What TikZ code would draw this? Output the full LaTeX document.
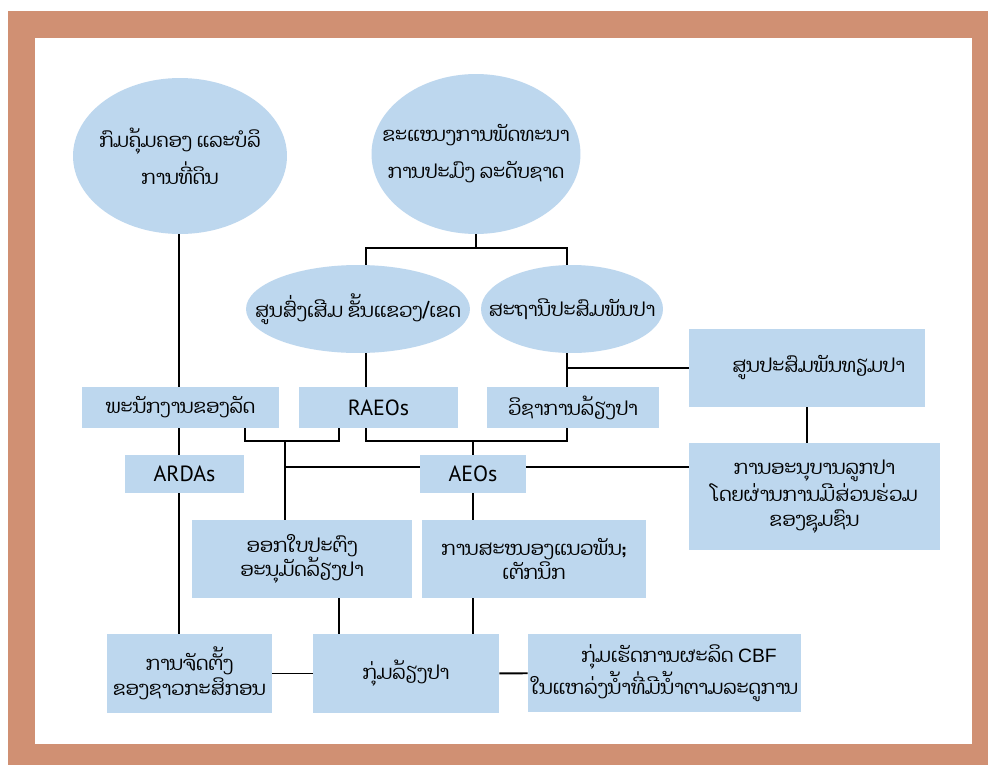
\documentclass[tikz,border=0pt]{standalone}
\usepackage{fontspec}
\setmainfont{PT Sans}
\newfontfamily\laofont[Script=Lao]{Dhyana}
\newfontfamily\arialfont{Liberation Sans}
\usetikzlibrary{shapes.geometric}
\definecolor{framebrown}{RGB}{208,144,115}
\definecolor{boxblue}{RGB}{189,215,238}

\begin{document}
\begin{tikzpicture}[x=0.02cm, y=-0.02cm,
	box/.style={fill=boxblue, inner sep=0pt, align=center, font=\laofont\fontsize{11}{14}\selectfont},
	latin/.style={font=\fontsize{12.5}{14}\selectfont},
	bubble/.style={ellipse, fill=boxblue, inner sep=0pt},
	lao/.style={align=center, font=\laofont\fontsize{11}{21}\selectfont},
	link/.style={line width=1.1pt}]
	\useasboundingbox (0,0) rectangle (988,765);
	%frame
	\fill[framebrown] (8,11) rectangle (988,765);
	\fill[white] (35,38) rectangle (972,744);
	
	%ellipses
	\node (land) at (180,156) [bubble, minimum width=4.28cm, minimum height=3.12cm,
		label={[lao]center:{ກົມຄຸ້ມຄອງ ແລະບໍລິ\\ການທີ່ດິນ}}]{};
	\node (fishdev) at (476,154) [bubble, minimum width=4.18cm, minimum height=3.2cm,
		label={[lao]center:{ຂະແໜງການພັດທະນາ\\ການປະມົງ ລະດັບຊາດ}}]{};
	\node (rao) at (358,309) [bubble, minimum width=4.48cm, minimum height=1.76cm,
		label={[lao]center:{ສູນສົ່ງເສີມ ຂັ້ນແຂວງ/ເຂດ}}]{};
	\node (station) at (572,309) [bubble, minimum width=3.64cm, minimum height=1.76cm,
		label={[lao]center:{ສະຖານີປະສົມພັນປາ}}]{};
	
	%boxes
	\node (civil) at (180.5,407.5) [box, minimum width=3.94cm, minimum height=0.82cm]{ພະນັກງານຂອງລັດ};
	\node (raeo) at (378.5,407.5) [box, latin, minimum width=3.18cm, minimum height=0.82cm]{RAEOs};
	\node (vis) at (573,407.5) [box, minimum width=3.44cm, minimum height=0.82cm]{ວິຊາການລ້ຽງປາ};
	\node (ardas) at (184.5,474) [box, latin, minimum width=2.38cm, minimum height=0.76cm]{ARDAs};
	\node (aeo) at (473,474) [box, latin, minimum width=2.12cm, minimum height=0.76cm]{AEOs};
	\node (artificial) at (807,368) [box, minimum width=4.72cm, minimum height=1.56cm]{\hspace{1.2em}ສູນປະສົມພັນທຽມປາ};
	\node (nursery) at (814.5,496.5) [box, minimum width=5.02cm, minimum height=2.14cm]{ການອະນຸບານລູກປາ\\ໂດຍຜ່ານການມີສ່ວນຮ່ວມ\\ຂອງຊຸມຊົນ};
	\node (license) at (302,559) [box, minimum width=4.4cm, minimum height=1.56cm]{ອອກໃບປະຕົງ\\ອະນຸມັດລ້ຽງປາ};
	\node (service) at (534,559) [box, minimum width=4.48cm, minimum height=1.56cm]{ການສະໜອງແນວພັນ;\\ເຕັກນິກ};
	\node (farmorg) at (189.5,673.5) [box, minimum width=3.3cm, minimum height=1.58cm]{ການຈັດຕັ້ງ\\ຂອງຊາວກະສິກອນ};
	\node (fishgrp) at (406,673.5) [box, minimum width=3.72cm, minimum height=1.58cm]{ກຸ່ມລ້ຽງປາ};
	\node (cbf) at (664.5,673) [box, minimum width=5.46cm, minimum height=1.56cm]{\hspace{1.5em}ກຸ່ມເຮັດການຜະລິດ {\arialfont CBF}\\ໃນແຫລ່ງນ້ຳທີ່ມີນ້ຳຕາມລະດູການ};
	
	%links
	\coordinate (xc) at (179,0);
	\coordinate (xa) at (245,0);
	\coordinate (xb) at (339,0);
	\coordinate (xr) at (366,0);
	\coordinate (xv) at (567,0);
	\coordinate (jt) at (476,248);
	\coordinate (jl) at (285,441);
	\coordinate (ja) at (285,467);
	
	\draw[link] (fishdev.south) -- (jt);
	\draw[link] (rao.north -| xr) -- (xr |- jt) -- (xv |- jt) -- (station.north -| xv);
	\draw[link] (land.south -| xc) -- (civil.north -| xc);
	\draw[link] (civil.south -| xc) -- (ardas.north -| xc);
	\draw[link] (ardas.south -| xc) -- (farmorg.north -| xc);
	\draw[link] (rao.south -| xr) -- (raeo.north -| xr);
	\draw[link] (station.south -| xv) -- (vis.north -| xv);
	\draw[link] (artificial.west -| xv) -- (artificial.west);
	\draw[link] (artificial.south) -- (nursery.north -| artificial.south);
	\draw[link] (civil.south -| xa) -- ++(0,13) -| (raeo.south -| xb);
	\draw[link] (raeo.south -| xr) -- ++(0,13) -| (vis.south -| xv);
	\draw[link] (aeo.north) -- ++(0,-14);
	\draw[link] (jl) -- (license.north -| jl);
	\draw[link] (ja) -- (aeo.west |- ja);
	\draw[link] (aeo.east |- ja) -- (nursery.west |- ja);
	\draw[link] (aeo.south) -- (service.north -| aeo.south);
	\draw[link] (license.south -| xb) -- (fishgrp.north -| xb);
	\draw[link] (service.south -| aeo.south) -- (fishgrp.north -| aeo.south);
	\draw[link] (farmorg) -- (fishgrp);
	\draw[link] (fishgrp) -- (cbf);
\end{tikzpicture}
\end{document}
